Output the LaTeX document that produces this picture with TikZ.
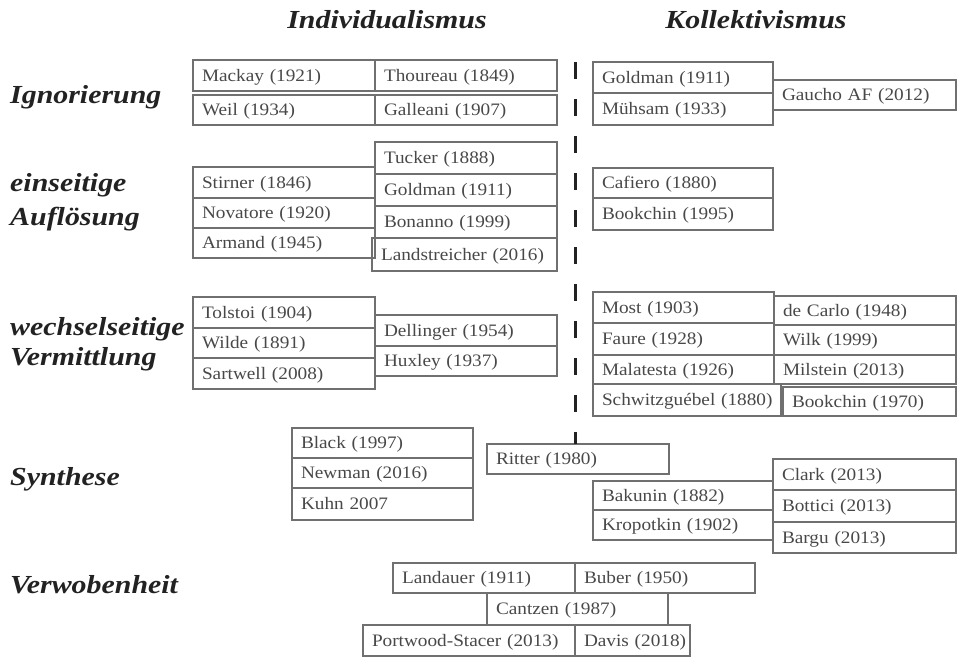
\documentclass[tikz,border=0pt]{standalone}
\usepackage{fontspec}
\setmainfont{Liberation Serif}[FakeStretch=1.1]
\newfontfamily\labelfont{Liberation Serif}[FakeStretch=1.15]
\definecolor{boxgray}{HTML}{707070}
\definecolor{txtgray}{HTML}{484848}
\definecolor{labelblack}{HTML}{222222}
\newcommand\Bx[6]{\node[box, minimum width={(#4-#2)*1pt}, minimum height={(#5-#3)*1pt}, text width={(#4-#2-18)*1pt}] (#1) at (#2,#3) {\mbox{#6}};}
\begin{document}
\begin{tikzpicture}[x=1pt,y=-1pt,
  box/.style={draw=boxgray, line width=1.2pt, inner xsep=9pt, inner ysep=0pt, outer sep=0pt, anchor=north west, text height=14.6pt, text depth=3pt, font=\fontsize{17.5}{20}\selectfont, text=txtgray},
  rowlabel/.style={anchor=base west, inner sep=0pt, font=\labelfont\bfseries\itshape\fontsize{26}{30}\selectfont, text=labelblack},
  header/.style={anchor=base, inner sep=0pt, font=\labelfont\bfseries\itshape\fontsize{26}{30}\selectfont, text=labelblack},
  divider/.style={line width=3pt, draw=labelblack, dash pattern=on 17pt off 20pt}]
\useasboundingbox (0,0) rectangle (961,659);

% headers
\node[header] (hind) at (387,28) {Individualismus};
\node[header] (hkol) at (756,28) {Kollektivismus};

% row labels
\node[rowlabel] (lign) at (10,103) {Ignorierung};
\node[rowlabel] (lein1) at (10,191) {einseitige};
\node[rowlabel] (lein2) at (10,225) {Auflösung};
\node[rowlabel] (lwech1) at (10,335) {wechselseitige};
\node[rowlabel] (lwech2) at (10,365) {Vermittlung};
\node[rowlabel] (lsyn) at (10,485) {Synthese};
\node[rowlabel] (lverw) at (10,593) {Verwobenheit};

% Ignorierung
\Bx{mackay}{193}{60}{375}{91}{Mackay (1921)}
\Bx{weil}{193}{95}{375}{125}{Weil (1934)}
\Bx{thoureau}{375}{60}{557}{91}{Thoureau (1849)}
\Bx{galleani}{375}{95}{557}{125}{Galleani (1907)}
\Bx{goldmanK}{593}{62}{773}{93}{Goldman (1911)}
\Bx{muehsam}{593}{93}{773}{125}{Mühsam (1933)}
\Bx{gaucho}{773}{80}{956}{110}{Gaucho AF (2012)}

% einseitige Aufloesung
\Bx{tucker}{375}{142}{557}{174}{Tucker (1888)}
\Bx{goldmanI}{375}{174}{557}{206}{Goldman (1911)}
\Bx{bonanno}{375}{206}{557}{238}{Bonanno (1999)}
\Bx{landstreicher}{372}{238}{557}{271}{Landstreicher (2016)}
\Bx{stirner}{193}{167}{375}{198}{Stirner (1846)}
\Bx{novatore}{193}{198}{375}{228}{Novatore (1920)}
\Bx{armand}{193}{228}{375}{258}{Armand (1945)}
\Bx{cafiero}{593}{168}{773}{198}{Cafiero (1880)}
\Bx{bookchinA}{593}{198}{773}{230}{Bookchin (1995)}

% wechselseitige Vermittlung
\Bx{tolstoi}{193}{297}{375}{328}{Tolstoi (1904)}
\Bx{wilde}{193}{328}{375}{358}{Wilde (1891)}
\Bx{sartwell}{193}{358}{375}{389}{Sartwell (2008)}
\Bx{dellinger}{375}{315}{557}{346}{Dellinger (1954)}
\Bx{huxley}{375}{346}{557}{376}{Huxley (1937)}
\Bx{most}{593}{292}{774}{323}{Most (1903)}
\Bx{faure}{593}{323}{774}{355}{Faure (1928)}
\Bx{malatesta}{593}{355}{774}{384}{Malatesta (1926)}
\Bx{schwitz}{593}{384}{781}{416}{Schwitzguébel (1880)}
\Bx{decarlo}{774}{296}{956}{325}{de Carlo (1948)}
\Bx{wilk}{774}{325}{956}{355}{Wilk (1999)}
\Bx{milstein}{774}{355}{956}{384}{Milstein (2013)}
\Bx{bookchinB}{783}{387}{956}{416}{Bookchin (1970)}

% Synthese
\Bx{black}{292}{428}{473}{458}{Black (1997)}
\Bx{newman}{292}{458}{473}{488}{Newman (2016)}
\Bx{kuhn}{292}{488}{473}{520}{Kuhn 2007}
\Bx{ritter}{487}{444}{669}{474}{Ritter (1980)}
\Bx{bakunin}{593}{481}{773}{510}{Bakunin (1882)}
\Bx{kropotkin}{593}{510}{773}{540}{Kropotkin (1902)}
\Bx{clark}{773}{459}{956}{490}{Clark (2013)}
\Bx{bottici}{773}{490}{956}{522}{Bottici (2013)}
\Bx{bargu}{773}{522}{956}{553}{Bargu (2013)}

% Verwobenheit
\Bx{landauer}{393}{563}{575}{593}{Landauer (1911)}
\Bx{buber}{575}{563}{755}{593}{Buber (1950)}
\Bx{cantzen}{487}{593}{668}{625}{Cantzen (1987)}
\Bx{portwood}{363}{625}{575}{656}{Portwood-Stacer (2013)}
\Bx{davis}{575}{625}{690}{656}{Davis (2018)}

% divider
\coordinate (divtop) at (575,62);
\draw[divider] (divtop) -- (divtop |- ritter.north);
\end{tikzpicture}
\end{document}
